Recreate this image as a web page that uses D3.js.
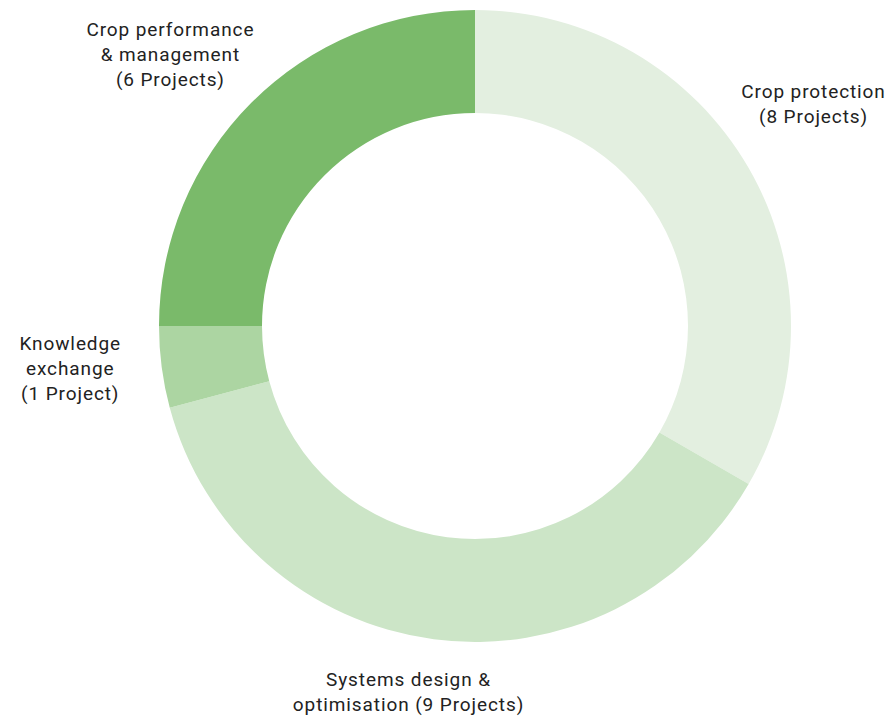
<!DOCTYPE html>
<html>
<head>
<meta charset="utf-8">
<script src="https://cdn.jsdelivr.net/npm/d3@7"></script>
<style>
html,body{margin:0;padding:0;background:#fff;}
svg{display:block;}
text{font-family:Roboto,"Open Sans",sans-serif;font-size:19px;letter-spacing:0.9px;fill:#222;}
</style>
</head>
<body>
<svg id="chart" width="891" height="720"></svg>
<script>
const categories = ["Crop protection", "Systems design & optimisation", "Knowledge exchange", "Crop performance & management"];
const projects = [8, 9, 1, 6];
const labelLines = [
  ["Crop protection", "(8 Projects)"],
  ["Systems design &", "optimisation (9 Projects)"],
  ["Knowledge", "exchange", "(1 Project)"],
  ["Crop performance", "& management", "(6 Projects)"]
];
const colors = ["#e3efe0", "#cce5c7", "#acd5a2", "#7aba6a"];

const W = 891, H = 720;
const cx = 475, cy = 326, outerR = 316, innerR = 213;
// label placement: [radius, angle shift in degrees]
const labelPlace = [[405, -3.3], [372, 2.8], [407, 1.5], [408, -3.3]];

const svg = d3.select("#chart");
const g = svg.append("g").attr("transform", `translate(${cx},${cy})`);

const pie = d3.pie().sort(null).value(d => d)(projects);
const arc = d3.arc().innerRadius(innerR).outerRadius(outerR);

g.selectAll("path.slice").data(pie).join("path")
  .attr("class", "slice")
  .attr("d", arc)
  .attr("fill", (d, i) => colors[i]);

const lh = 25;
pie.forEach((d, i) => {
  const mid = (d.startAngle + d.endAngle) / 2 + labelPlace[i][1] * Math.PI / 180;
  const r = labelPlace[i][0];
  const x = r * Math.sin(mid), y = -r * Math.cos(mid);
  const lines = labelLines[i];
  const t = g.append("text").attr("text-anchor", "middle").attr("transform", `translate(${x},${y})`);
  lines.forEach((ln, k) => {
    t.append("tspan").attr("x", 0)
      .attr("y", (k - (lines.length - 1) / 2) * lh)
      .attr("dy", "0.35em")
      .text(ln);
  });
});
</script>
</body>
</html>
